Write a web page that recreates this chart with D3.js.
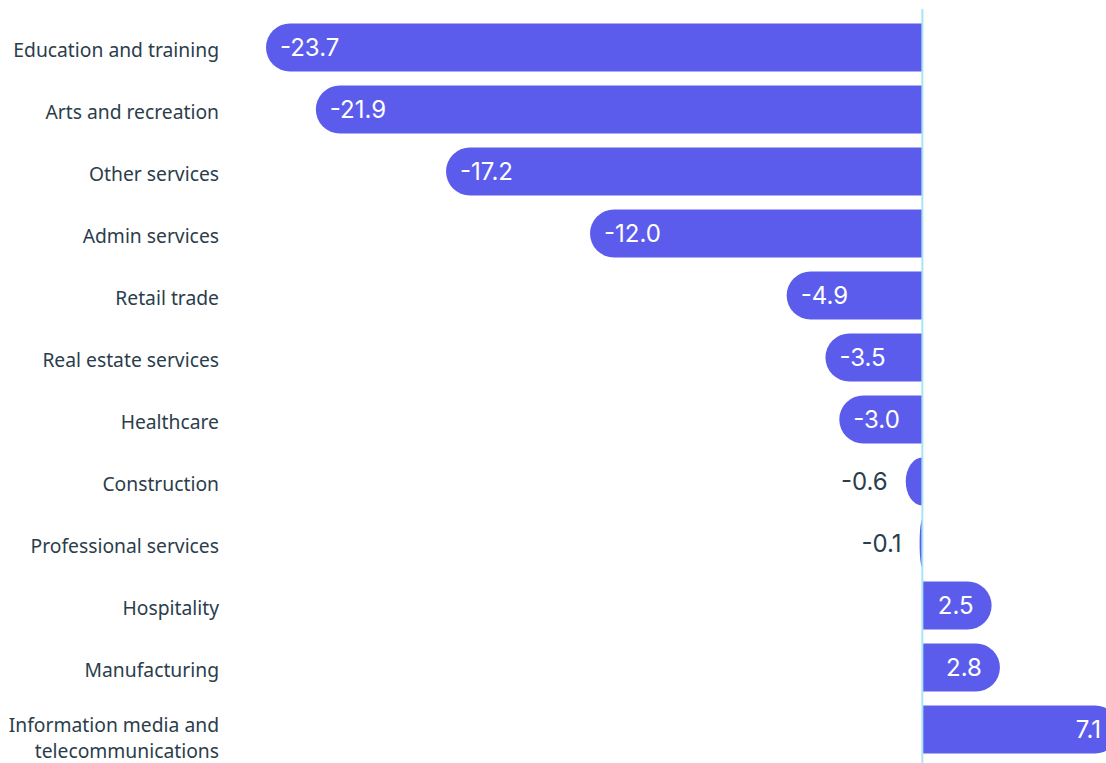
<!DOCTYPE html>
<html>
<head>
<meta charset="utf-8">
<script src="https://cdn.jsdelivr.net/npm/d3@7"></script>
<style>
  html, body { margin: 0; padding: 0; background: #ffffff; }
  svg { display: block; }
</style>
</head>
<body>
<svg id="chart" width="1106" height="763"></svg>
<script>
// Change in employment by industry (percent)
const categories = [
  "Education and training",
  "Arts and recreation",
  "Other services",
  "Admin services",
  "Retail trade",
  "Real estate services",
  "Healthcare",
  "Construction",
  "Professional services",
  "Hospitality",
  "Manufacturing",
  "Information media and telecommunications"
];
const values = [-23.7, -21.9, -17.2, -12.0, -4.9, -3.5, -3.0, -0.6, -0.1, 2.5, 2.8, 7.1];

const width = 1106, height = 763;
const barColor = "#5c5cec";
const textDark = "#2b3d4b";
const zeroColor = "#a9e3f6";

const svg = d3.select("#chart");

const x = d3.scaleLinear()
  .domain([-23.7, 7.1])
  .range([266, 1119]);

const y = d3.scaleBand()
  .domain(categories)
  .range([16.5, 760.5])
  .paddingInner(14 / 62)
  .paddingOuter(7 / 62);

const bh = y.bandwidth();
const data = categories.map((c, i) => ({ cat: c, v: values[i] }));

// Plain hyphen for negatives
const fmt = v => (v < 0 ? "-" : "") + Math.abs(v).toFixed(1);

// Bar with a rounded outer end
function barPath(d) {
  const y0 = y(d.cat), y1 = y0 + bh;
  const x0 = x(0), xv = x(d.v);
  const w = Math.abs(xv - x0);
  const ry = bh / 2;
  const rx = Math.min(ry, w);
  if (d.v < 0) {
    return `M${x0},${y0} L${xv + rx},${y0} A${rx},${ry} 0 0 0 ${xv + rx},${y1} L${x0},${y1} Z`;
  } else {
    return `M${x0},${y0} L${xv - rx},${y0} A${rx},${ry} 0 0 1 ${xv - rx},${y1} L${x0},${y1} Z`;
  }
}

svg.append("g")
  .selectAll("path")
  .data(data)
  .join("path")
  .attr("d", barPath)
  .attr("fill", barColor);

// Zero baseline
svg.append("line")
  .attr("x1", x(0)).attr("x2", x(0))
  .attr("y1", 9).attr("y2", height)
  .attr("stroke", zeroColor)
  .attr("stroke-width", 2);

// Value labels
const valueFont = "Inter, 'Noto Sans', sans-serif";
const vl = svg.append("g")
  .attr("font-family", valueFont)
  .attr("font-size", 24);

data.forEach(d => {
  const w = Math.abs(x(d.v) - x(0));
  const cy = y(d.cat) + bh / 2;
  const t = vl.append("text")
    .attr("y", cy)
    .attr("dy", "0.35em")
    .text(fmt(d.v));
  const tw = t.node().getComputedTextLength();
  const inside = w > tw + 24;
  if (d.v < 0) {
    if (inside) {
      t.attr("x", x(d.v) + 14).attr("text-anchor", "start").attr("fill", "#ffffff");
    } else {
      t.attr("x", x(d.v) - 18).attr("text-anchor", "end").attr("fill", textDark);
    }
  } else {
    if (inside) {
      t.attr("x", x(d.v) - 18).attr("text-anchor", "end").attr("fill", "#ffffff");
    } else {
      t.attr("x", x(d.v) + 16).attr("text-anchor", "start").attr("fill", textDark);
    }
  }
});

// Category labels, wrapped to fit the left margin
const labelX = 219, maxW = 214, lineH = 26.5;
const cl = svg.append("g")
  .attr("font-family", "'Noto Sans', sans-serif")
  .attr("font-size", 19.3)
  .attr("fill", textDark)
  .attr("text-anchor", "end");

data.forEach(d => {
  const cy = y(d.cat) + bh / 2;
  const t = cl.append("text").attr("x", labelX);
  const words = d.cat.split(" ");
  let lines = [], cur = [];
  const probe = cl.append("text").attr("visibility", "hidden");
  words.forEach(wd => {
    const trial = cur.concat(wd).join(" ");
    probe.text(trial);
    if (probe.node().getComputedTextLength() > maxW && cur.length) {
      lines.push(cur.join(" "));
      cur = [wd];
    } else {
      cur.push(wd);
    }
  });
  lines.push(cur.join(" "));
  probe.remove();
  const base = lines.length === 1 ? cy + 9 : cy + 2;
  lines.forEach((ln, i) => {
    t.append("tspan")
      .attr("x", labelX)
      .attr("y", base + i * lineH)
      .text(ln);
  });
});
</script>
</body>
</html>
